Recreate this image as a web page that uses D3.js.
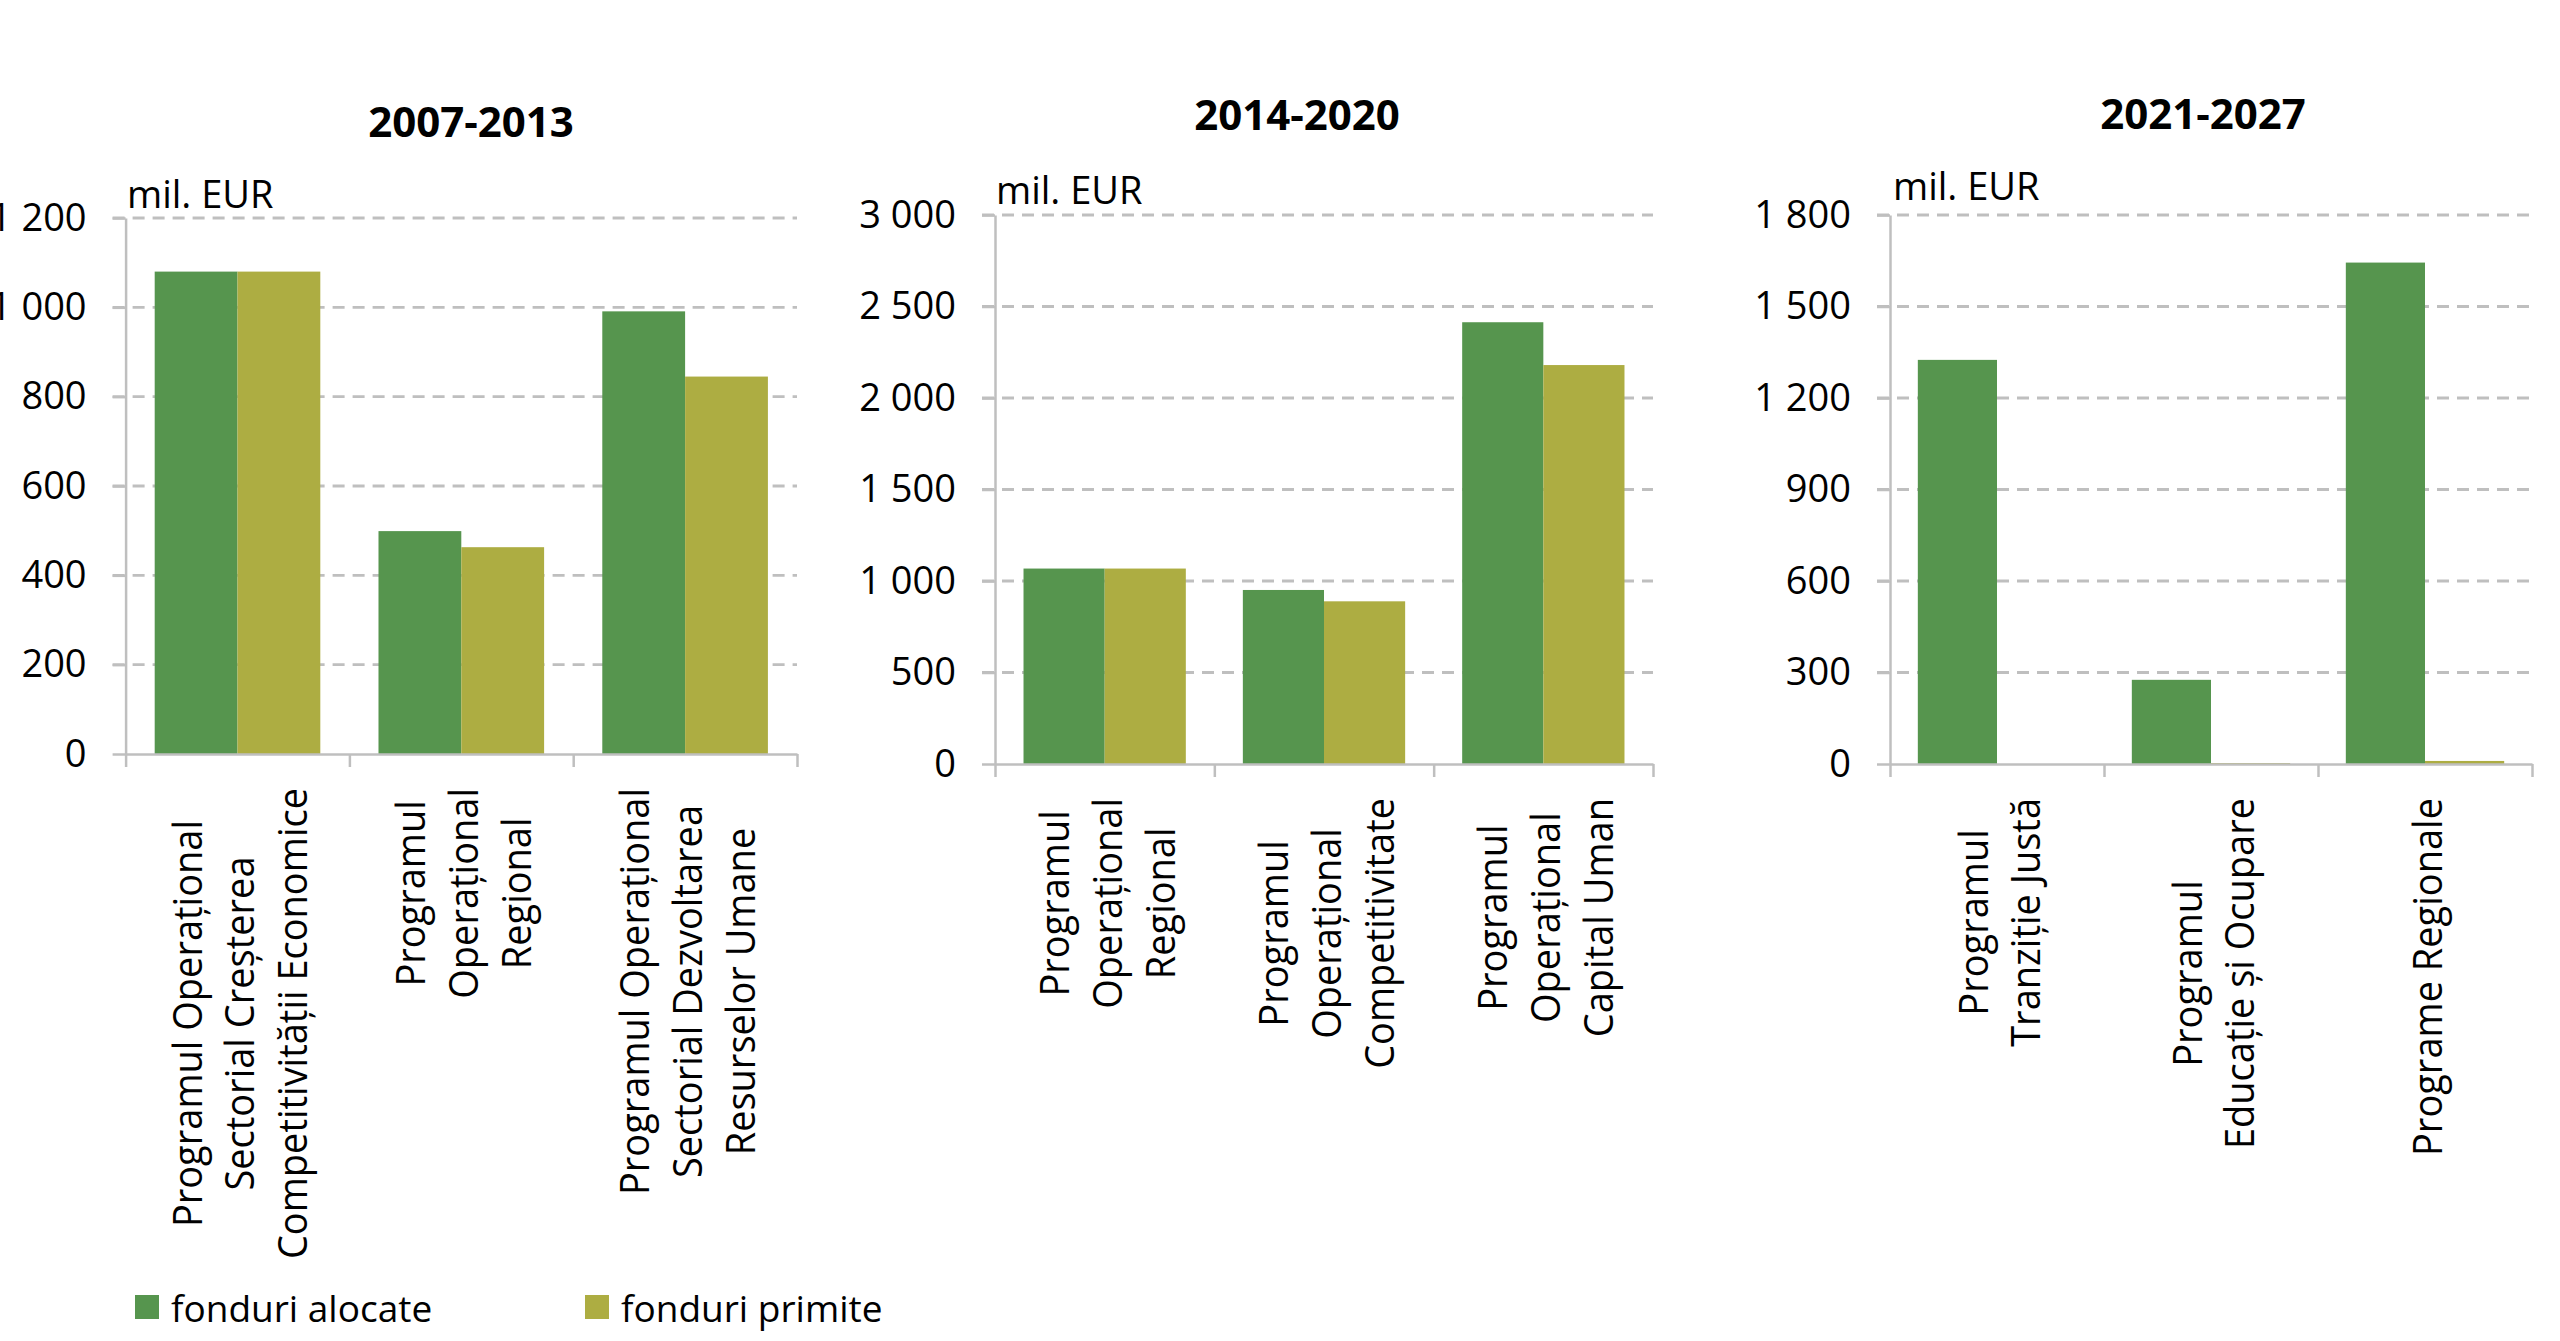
<!DOCTYPE html>
<html>
<head>
<meta charset="utf-8">
<script src="https://cdn.jsdelivr.net/npm/d3@7"></script>
<style>
  body { margin: 0; background: #fff; }
  text { font-family: "Open Sans", sans-serif; fill: #000; }
</style>
</head>
<body>
<div id="chart"></div>
<script>
// Data (mil. EUR)
const seriesNames = ["fonduri alocate", "fonduri primite"];
const periods = ["2007-2013", "2014-2020", "2021-2027"];

const categories1 = [
  ["Programul Operațional", "Sectorial Creșterea", "Competitivității Economice"],
  ["Programul", "Operațional", "Regional"],
  ["Programul Operațional", "Sectorial Dezvoltarea", "Resurselor Umane"]
];
const alocate1 = [1080, 499, 991];
const primite1 = [1080, 463, 845];
const ticks1 = [0, 200, 400, 600, 800, 1000, 1200];

const categories2 = [
  ["Programul", "Operațional", "Regional"],
  ["Programul", "Operațional", "Competitivitate"],
  ["Programul", "Operațional", "Capital Uman"]
];
const alocate2 = [1068, 951, 2414];
const primite2 = [1068, 889, 2180];
const ticks2 = [0, 500, 1000, 1500, 2000, 2500, 3000];

const categories3 = [
  ["Programul", "Tranziție Justă"],
  ["Programul", "Educație și Ocupare"],
  ["Programe Regionale"]
];
const alocate3 = [1325, 276, 1644];
const primite3 = [0, 3, 10];
const ticks3 = [0, 300, 600, 900, 1200, 1500, 1800];

const unitLabel = "mil. EUR";

// colours
const colors = ["#56954e", "#adad42"];
const gridColor = "#bfbfbf";

// panel layout (pixels)
const panels = [
  { title: periods[0], cats: categories1, vals: [alocate1, primite1], ticks: ticks1,
    x0: 125.6, x1: 797, yTop: 218, y0: 754, titleX: 471, titleY: 137, unitX: 127, unitY: 208 },
  { title: periods[1], cats: categories2, vals: [alocate2, primite2], ticks: ticks2,
    x0: 995, x1: 1653, yTop: 215, y0: 764, titleX: 1297, titleY: 130, unitX: 996, unitY: 204 },
  { title: periods[2], cats: categories3, vals: [alocate3, primite3], ticks: ticks3,
    x0: 1890, x1: 2532, yTop: 215, y0: 764, titleX: 2203, titleY: 129, unitX: 1893, unitY: 200 }
];

const width = 2560, height = 1341;
const fmt = d3.formatLocale({ decimal: ",", thousands: " ", grouping: [3], currency: ["", ""] }).format(",");

const svg = d3.select("#chart").append("svg")
  .attr("width", width)
  .attr("height", height);

svg.append("rect").attr("width", width).attr("height", height).attr("fill", "#fff");

panels.forEach(p => {
  const g = svg.append("g");
  const n = p.cats.length;

  const x = d3.scaleBand().domain(d3.range(n)).range([p.x0, p.x1]);
  const bw = x.bandwidth();
  const xs = d3.scaleBand().domain(d3.range(seriesNames.length))
    .range([bw * 0.13, bw * 0.87]);
  const y = d3.scaleLinear().domain([0, d3.max(p.ticks)]).range([p.y0, p.yTop]);

  // dashed gridlines
  g.selectAll(".grid")
    .data(p.ticks.filter(t => t > 0))
    .enter()
    .append("line")
    .attr("x1", p.x0 - 13)
    .attr("x2", p.x1)
    .attr("y1", d => y(d))
    .attr("y2", d => y(d))
    .attr("stroke", gridColor)
    .attr("stroke-width", 2.8)
    .attr("stroke-dasharray", "12,8");

  // bars
  p.vals.forEach((vals, si) => {
    g.selectAll(".bar" + si)
      .data(vals)
      .enter()
      .append("rect")
      .attr("x", (d, i) => x(i) + xs(si))
      .attr("width", xs.bandwidth())
      .attr("y", d => y(d))
      .attr("height", d => p.y0 - y(d))
      .attr("fill", colors[si]);
  });

  // y axis
  const yAxis = d3.axisLeft(y)
    .tickValues(p.ticks)
    .tickFormat(fmt)
    .tickSize(13)
    .tickSizeOuter(0)
    .tickPadding(26);

  const ya = g.append("g")
    .attr("transform", `translate(${p.x0},0)`)
    .call(yAxis);
  ya.selectAll("path, line").attr("stroke", gridColor).attr("stroke-width", 2.5);
  ya.selectAll("text")
    .style("font-family", "'Open Sans', sans-serif")
    .style("font-size", "38px")
    .attr("fill", "#000");

  // x axis with boundary ticks
  const xb = d3.scaleLinear().domain([0, n]).range([p.x0, p.x1]);
  const xAxis = d3.axisBottom(xb)
    .tickValues(d3.range(n + 1))
    .tickFormat("")
    .tickSize(13)
    .tickSizeOuter(0);
  const xa = g.append("g")
    .attr("transform", `translate(0,${p.y0})`)
    .call(xAxis);
  xa.selectAll("path, line").attr("stroke", gridColor).attr("stroke-width", 2.5);

  // category labels (rotated, centred lines, longest line ends near axis)
  p.cats.forEach((lines, i) => {
    const lg = g.append("g")
      .attr("transform", `translate(${x(i) + bw / 2 + 4},${p.y0 + 34}) rotate(-90) scale(1,1.08)`);
    const texts = lg.selectAll("text")
      .data(lines)
      .enter()
      .append("text")
      .attr("text-anchor", "middle")
      .style("font-size", "38px")
      .text(d => d);
    const maxLen = d3.max(texts.nodes(), nd => nd.getComputedTextLength());
    texts
      .attr("x", -maxLen / 2)
      .attr("y", (d, j) => (j - (lines.length - 1) / 2) * 49 + 12);
  });

  // title
  g.append("text")
    .attr("x", p.titleX)
    .attr("y", p.titleY)
    .attr("text-anchor", "middle")
    .style("font-size", "42px")
    .style("font-weight", "bold")
    .text(p.title);

  // unit label
  g.append("text")
    .attr("x", p.unitX)
    .attr("y", p.unitY)
    .style("font-size", "38px")
    .text(unitLabel);
});

// legend
const legendX = [135, 585];
const legend = svg.selectAll(".legend")
  .data(seriesNames)
  .enter()
  .append("g")
  .attr("transform", (d, i) => `translate(${legendX[i]},1295)`);
legend.append("rect")
  .attr("width", 24)
  .attr("height", 24)
  .attr("fill", (d, i) => colors[i]);
legend.append("text")
  .attr("x", 36)
  .attr("y", 27)
  .style("font-size", "37px")
  .text(d => d);
</script>
</body>
</html>
